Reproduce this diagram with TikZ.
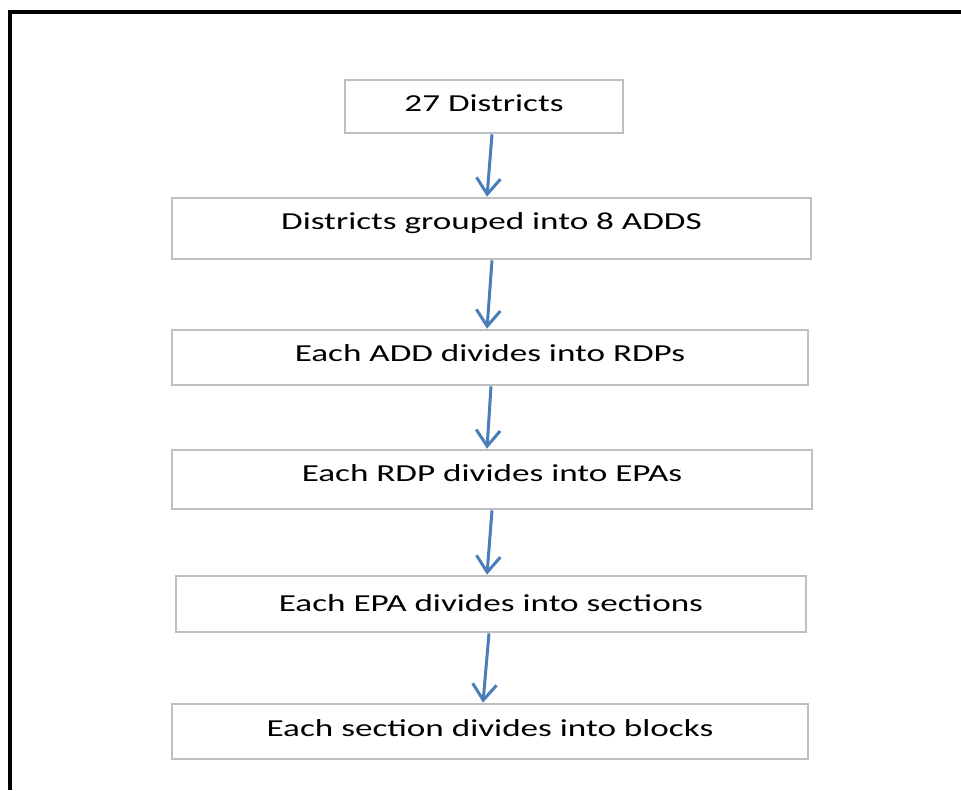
\documentclass[tikz,border=0pt]{standalone}
\usepackage{fontspec}
\setmainfont{Carlito}[FakeStretch=1.44]
\usetikzlibrary{arrows.meta,calc}
\definecolor{boxgray}{RGB}{191,191,191}
\definecolor{flowblue}{RGB}{74,126,187}
\begin{document}
\begin{tikzpicture}[x=0.75pt,y=-0.75pt,
  box/.style={draw=boxgray,line width=2pt,fill=white,inner sep=0pt},
  lbl/.style={anchor=base,inner sep=0pt,font=\fontsize{18.3}{22}\selectfont},
  flow/.style={draw=flowblue,line width=2.25pt,
    -{Straight Barb[length=12pt,width=18pt,line width=2.25pt]}}]
\useasboundingbox (0,0) rectangle (961,791);

% outer frame: top and left edges only
\draw[line width=3pt] (961,12) -- (10,12) -- (10,790);

% boxes
\node[box,minimum width=208.5pt,minimum height=39.75pt] (b1) at (484,106.5) {};
\node[box,minimum width=479.25pt,minimum height=45.75pt] (b2) at (491.5,228.5) {};
\node[box,minimum width=477pt,minimum height=41.25pt] (b3) at (490,357.5) {};
\node[box,minimum width=480pt,minimum height=44.25pt] (b4) at (492,479.5) {};
\node[box,minimum width=472.5pt,minimum height=42pt] (b5) at (491,604) {};
\node[box,minimum width=477pt,minimum height=41.25pt] (b6) at (490,731.5) {};

% labels
\node[lbl] (t1) at (484,112) {27 Districts};
\node[lbl] (t2) at (491.5,230) {Districts grouped into 8 ADDS};
\node[lbl] (t3) at (490,362) {Each ADD divides into RDPs};
\node[lbl] (t4) at (492,482) {Each RDP divides into EPAs};
\node[lbl] (t5) at (491,611) {Each EPA divides into sections};
\node[lbl] (t6) at (490,736) {Each section divides into blocks};

% connectors
\draw[flow] ($(b1.south)+(8,0)$) -- ($(b2.north)+(-4.5,0)$);
\draw[flow] ($(b2.south)+(0.5,0)$) -- ($(b3.north)+(-3,0)$);
\draw[flow] ($(b3.south)+(1,0)$) -- ($(b4.north)+(-5,0)$);
\draw[flow] ($(b4.south)+(0,0)$) -- ($(b5.north)+(-4,0)$);
\draw[flow] ($(b5.south)+(-2,0)$) -- ($(b6.north)+(-7,0)$);
\end{tikzpicture}
\end{document}
